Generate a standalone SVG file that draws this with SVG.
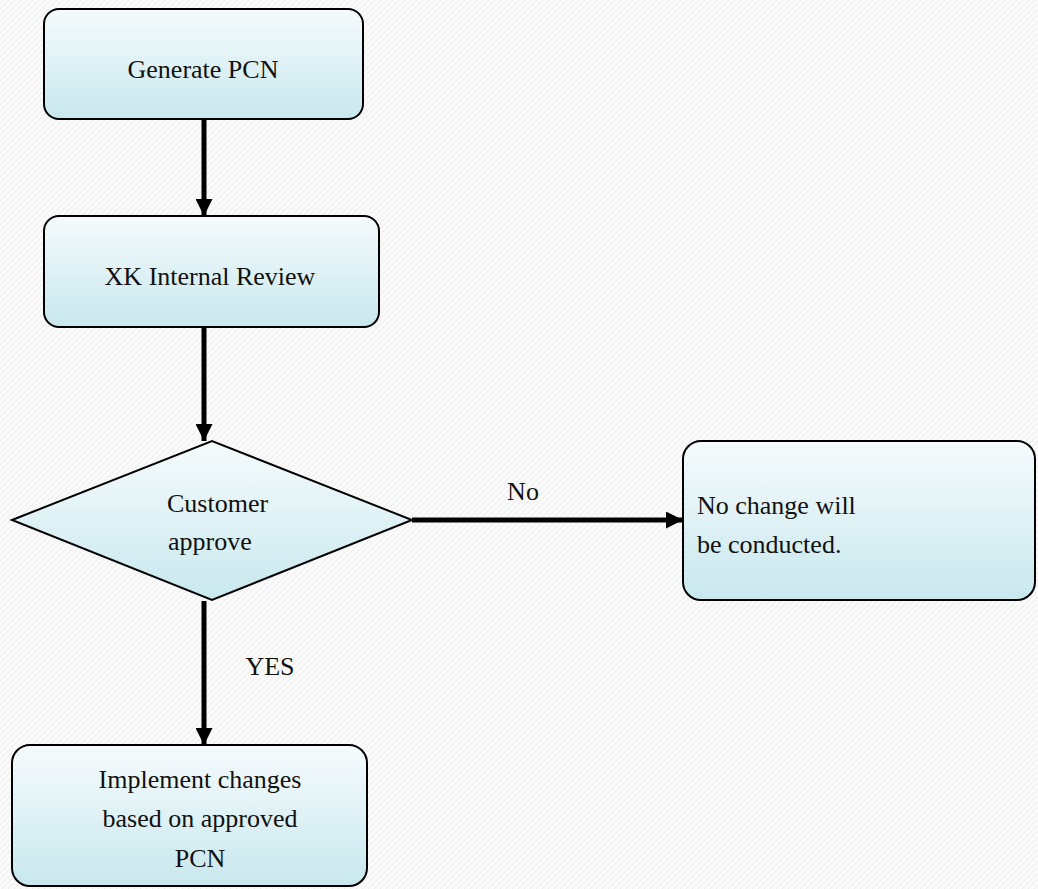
<svg xmlns="http://www.w3.org/2000/svg" width="1038" height="889" viewBox="0 0 1038 889">
<style>
.node{fill:url(#g);stroke:#000;stroke-width:2}
.t{font-family:"Liberation Serif","Times New Roman",serif;font-size:26px;fill:#111}
.c{text-anchor:middle}
.edge{stroke:#000;stroke-width:5;fill:none}
</style>
<defs>
<linearGradient id="g" x1="0" y1="0" x2="0" y2="1">
<stop offset="0" stop-color="#f6fbfc"/>
<stop offset="1" stop-color="#c8e8ee"/>
</linearGradient>
<pattern id="bg" width="6" height="6" patternUnits="userSpaceOnUse">
<rect width="6" height="6" fill="#fafafa"/>
<path d="M0 3 L3 0 M3 6 L6 3" stroke="#ececec" stroke-width="1"/>
</pattern>
<marker id="ah" viewBox="0 0 10 10" refX="10" refY="5" markerWidth="3.4" markerHeight="3.4" orient="auto" markerUnits="strokeWidth">
<path d="M0 0 L10 5 L0 10 Z" fill="#000"/>
</marker>
</defs>
<rect width="1038" height="889" fill="url(#bg)"/>
<g id="connectors">
<line class="edge" x1="204" y1="120" x2="204" y2="216" marker-end="url(#ah)"/>
<line class="edge" x1="204" y1="328" x2="204" y2="441" marker-end="url(#ah)"/>
<line class="edge" x1="412" y1="520" x2="683" y2="520" marker-end="url(#ah)"/>
<line class="edge" x1="204" y1="601" x2="204" y2="745" marker-end="url(#ah)"/>
<text class="t c" x="523" y="500">No</text>
<text class="t c" x="270" y="675">YES</text>
</g>
<g id="generate">
<rect class="node" x="44" y="9" width="319" height="110" rx="15"/>
<text class="t c" x="203" y="78">Generate PCN</text>
</g>
<g id="review">
<rect class="node" x="44" y="216" width="335" height="111" rx="15"/>
<text class="t c" x="210" y="285">XK Internal Review</text>
</g>
<g id="decision">
<polygon class="node" points="12,520 212,441 412,520 212,600"/>
<text class="t" x="167" y="512">Customer</text>
<text class="t" x="168" y="550">approve</text>
</g>
<g id="nochange">
<rect class="node" x="683" y="441" width="352" height="159" rx="18"/>
<text class="t" x="697" y="514">No change will</text>
<text class="t" x="697" y="553">be conducted.</text>
</g>
<g id="implement">
<rect class="node" x="12" y="745" width="355" height="141" rx="18"/>
<text class="t c" x="200" y="788">Implement changes</text>
<text class="t c" x="200" y="827">based on approved</text>
<text class="t c" x="200" y="867">PCN</text>
</g>
</svg>
